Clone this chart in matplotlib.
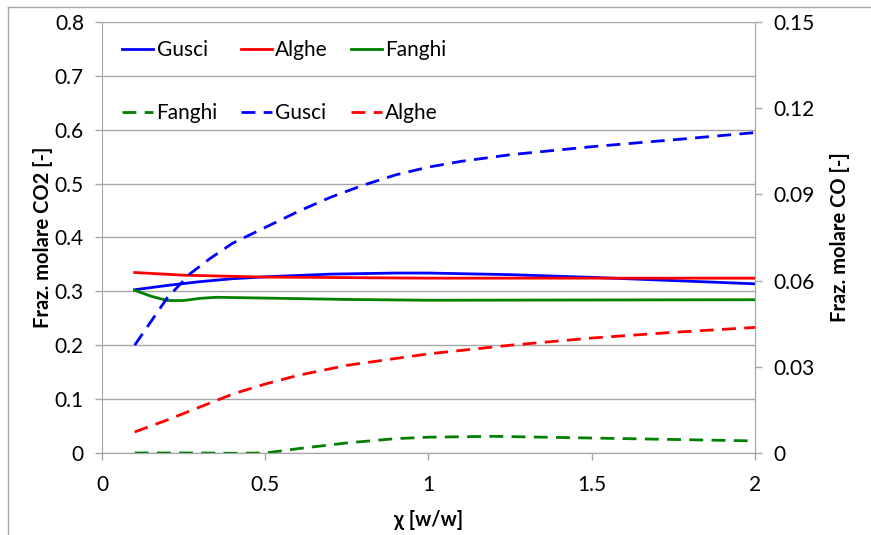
import matplotlib.pyplot as plt
from matplotlib.lines import Line2D
from matplotlib.ticker import FuncFormatter

plt.rcParams['font.family'] = ['Lato', 'DejaVu Sans']

# CO2 molar fraction (left axis)
x_gusci_co2 = [0.1, 0.2, 0.3, 0.4, 0.5, 0.7, 0.9, 1.0, 1.25, 1.5, 1.75, 2.0]
gusci_co2 = [0.303, 0.311, 0.318, 0.3235, 0.327, 0.332, 0.334, 0.334, 0.331, 0.326, 0.320, 0.314]
x_alghe_co2 = [0.1, 0.25, 0.5, 1.0, 1.5, 2.0]
alghe_co2 = [0.335, 0.330, 0.3265, 0.3245, 0.3245, 0.3245]
x_fanghi_co2 = [0.1, 0.15, 0.2, 0.25, 0.3, 0.35, 0.5, 0.75, 1.0, 1.5, 2.0]
fanghi_co2 = [0.302, 0.291, 0.283, 0.283, 0.287, 0.289, 0.2875, 0.285, 0.2835, 0.284, 0.2845]

# CO molar fraction (right axis)
x_fanghi_co = [0.1, 0.2, 0.3, 0.4, 0.5, 0.6, 0.75, 0.9, 1.0, 1.2, 1.5, 1.75, 2.0]
fanghi_co = [0.0, 0.0, 0.0, -0.0001, 0.0, 0.0015, 0.0035, 0.0050, 0.0055, 0.0058, 0.0052, 0.0047, 0.0042]
x_gusci_co = [0.1, 0.2, 0.27, 0.33, 0.4, 0.5, 0.6, 0.7, 0.8, 0.9, 1.0, 1.1, 1.25, 1.5, 1.75, 2.0]
gusci_co = [0.0375, 0.054, 0.0624, 0.0676, 0.073, 0.0785, 0.084, 0.089, 0.0932, 0.0968, 0.0995, 0.1015, 0.1038, 0.1066, 0.109, 0.1115]
x_alghe_co = [0.1, 0.2, 0.3, 0.4, 0.5, 0.6, 0.75, 1.0, 1.25, 1.5, 1.75, 2.0]
alghe_co = [0.0073, 0.0115, 0.016, 0.0205, 0.024, 0.027, 0.0305, 0.0345, 0.0375, 0.040, 0.042, 0.0437]

x_ticks = [0, 0.5, 1, 1.5, 2]
co2_ticks = [0, 0.1, 0.2, 0.3, 0.4, 0.5, 0.6, 0.7, 0.8]
co_ticks = [0, 0.03, 0.06, 0.09, 0.12, 0.15]

grey = '#A6A6A6'
lw = 2.0
dash = (5, 3)
fmt = FuncFormatter(lambda v, p: '%g' % v)

fig = plt.figure(figsize=(8.71, 5.35), dpi=100)
ax = fig.add_axes([0.1171, 0.1533, 0.7497, 0.8056])
ax2 = ax.twinx()

# outer chart frame
fig.add_artist(Line2D([8 / 871, 8 / 871], [0, 1 - 7 / 535], transform=fig.transFigure, color=grey, lw=1))
fig.add_artist(Line2D([8 / 871, 1], [1 - 7 / 535, 1 - 7 / 535], transform=fig.transFigure, color=grey, lw=1))

h1, = ax.plot(x_gusci_co2, gusci_co2, color='#0000FF', lw=lw, label='Gusci')
h2, = ax.plot(x_alghe_co2, alghe_co2, color='#FF0000', lw=lw, label='Alghe')
h3, = ax.plot(x_fanghi_co2, fanghi_co2, color='#008000', lw=lw, label='Fanghi')

h4, = ax2.plot(x_fanghi_co, fanghi_co, color='#008000', lw=lw, dashes=dash, label='Fanghi')
h5, = ax2.plot(x_gusci_co, gusci_co, color='#0000FF', lw=lw, dashes=dash, label='Gusci')
h6, = ax2.plot(x_alghe_co, alghe_co, color='#FF0000', lw=lw, dashes=dash, label='Alghe')

ax.set_xlim(0, 2)
ax.set_ylim(0, 0.8)
ax2.set_ylim(0, 0.15)
ax.set_xticks(x_ticks)
ax.set_yticks(co2_ticks)
ax2.set_yticks(co_ticks)
ax.xaxis.set_major_formatter(fmt)
ax.yaxis.set_major_formatter(fmt)
ax2.yaxis.set_major_formatter(fmt)

ax.grid(axis='y', color=grey, lw=1)
ax.set_axisbelow(True)
for a in (ax, ax2):
    a.spines['top'].set_visible(False)
    for s in ('left', 'right', 'bottom'):
        a.spines[s].set_color(grey)
    a.tick_params(colors=grey, labelcolor='black', labelsize=15, length=5, width=1, pad=8)
ax2.spines['left'].set_visible(False)
ax.tick_params(axis='x', pad=11)

ax.set_xlabel('χ [w/w]', fontsize=14.5, fontweight='bold', labelpad=11)
ax.set_ylabel('Fraz. molare CO2 [-]', fontsize=14.5, fontweight='bold', labelpad=1)
ax2.set_ylabel('Fraz. molare CO [-]', fontsize=14.5, fontweight='bold', labelpad=11)

# both legend rows in one block so the columns line up
ax2.legend(handles=[h1, h4, h2, h5, h3, h6], loc='upper left', bbox_to_anchor=(0.031, 0.958),
           ncol=3, frameon=False, fontsize=15, handlelength=1.5, handletextpad=0.15,
           columnspacing=1.1, labelspacing=2.05, borderpad=0, borderaxespad=0)

fig.savefig('out.png', dpi=100)
